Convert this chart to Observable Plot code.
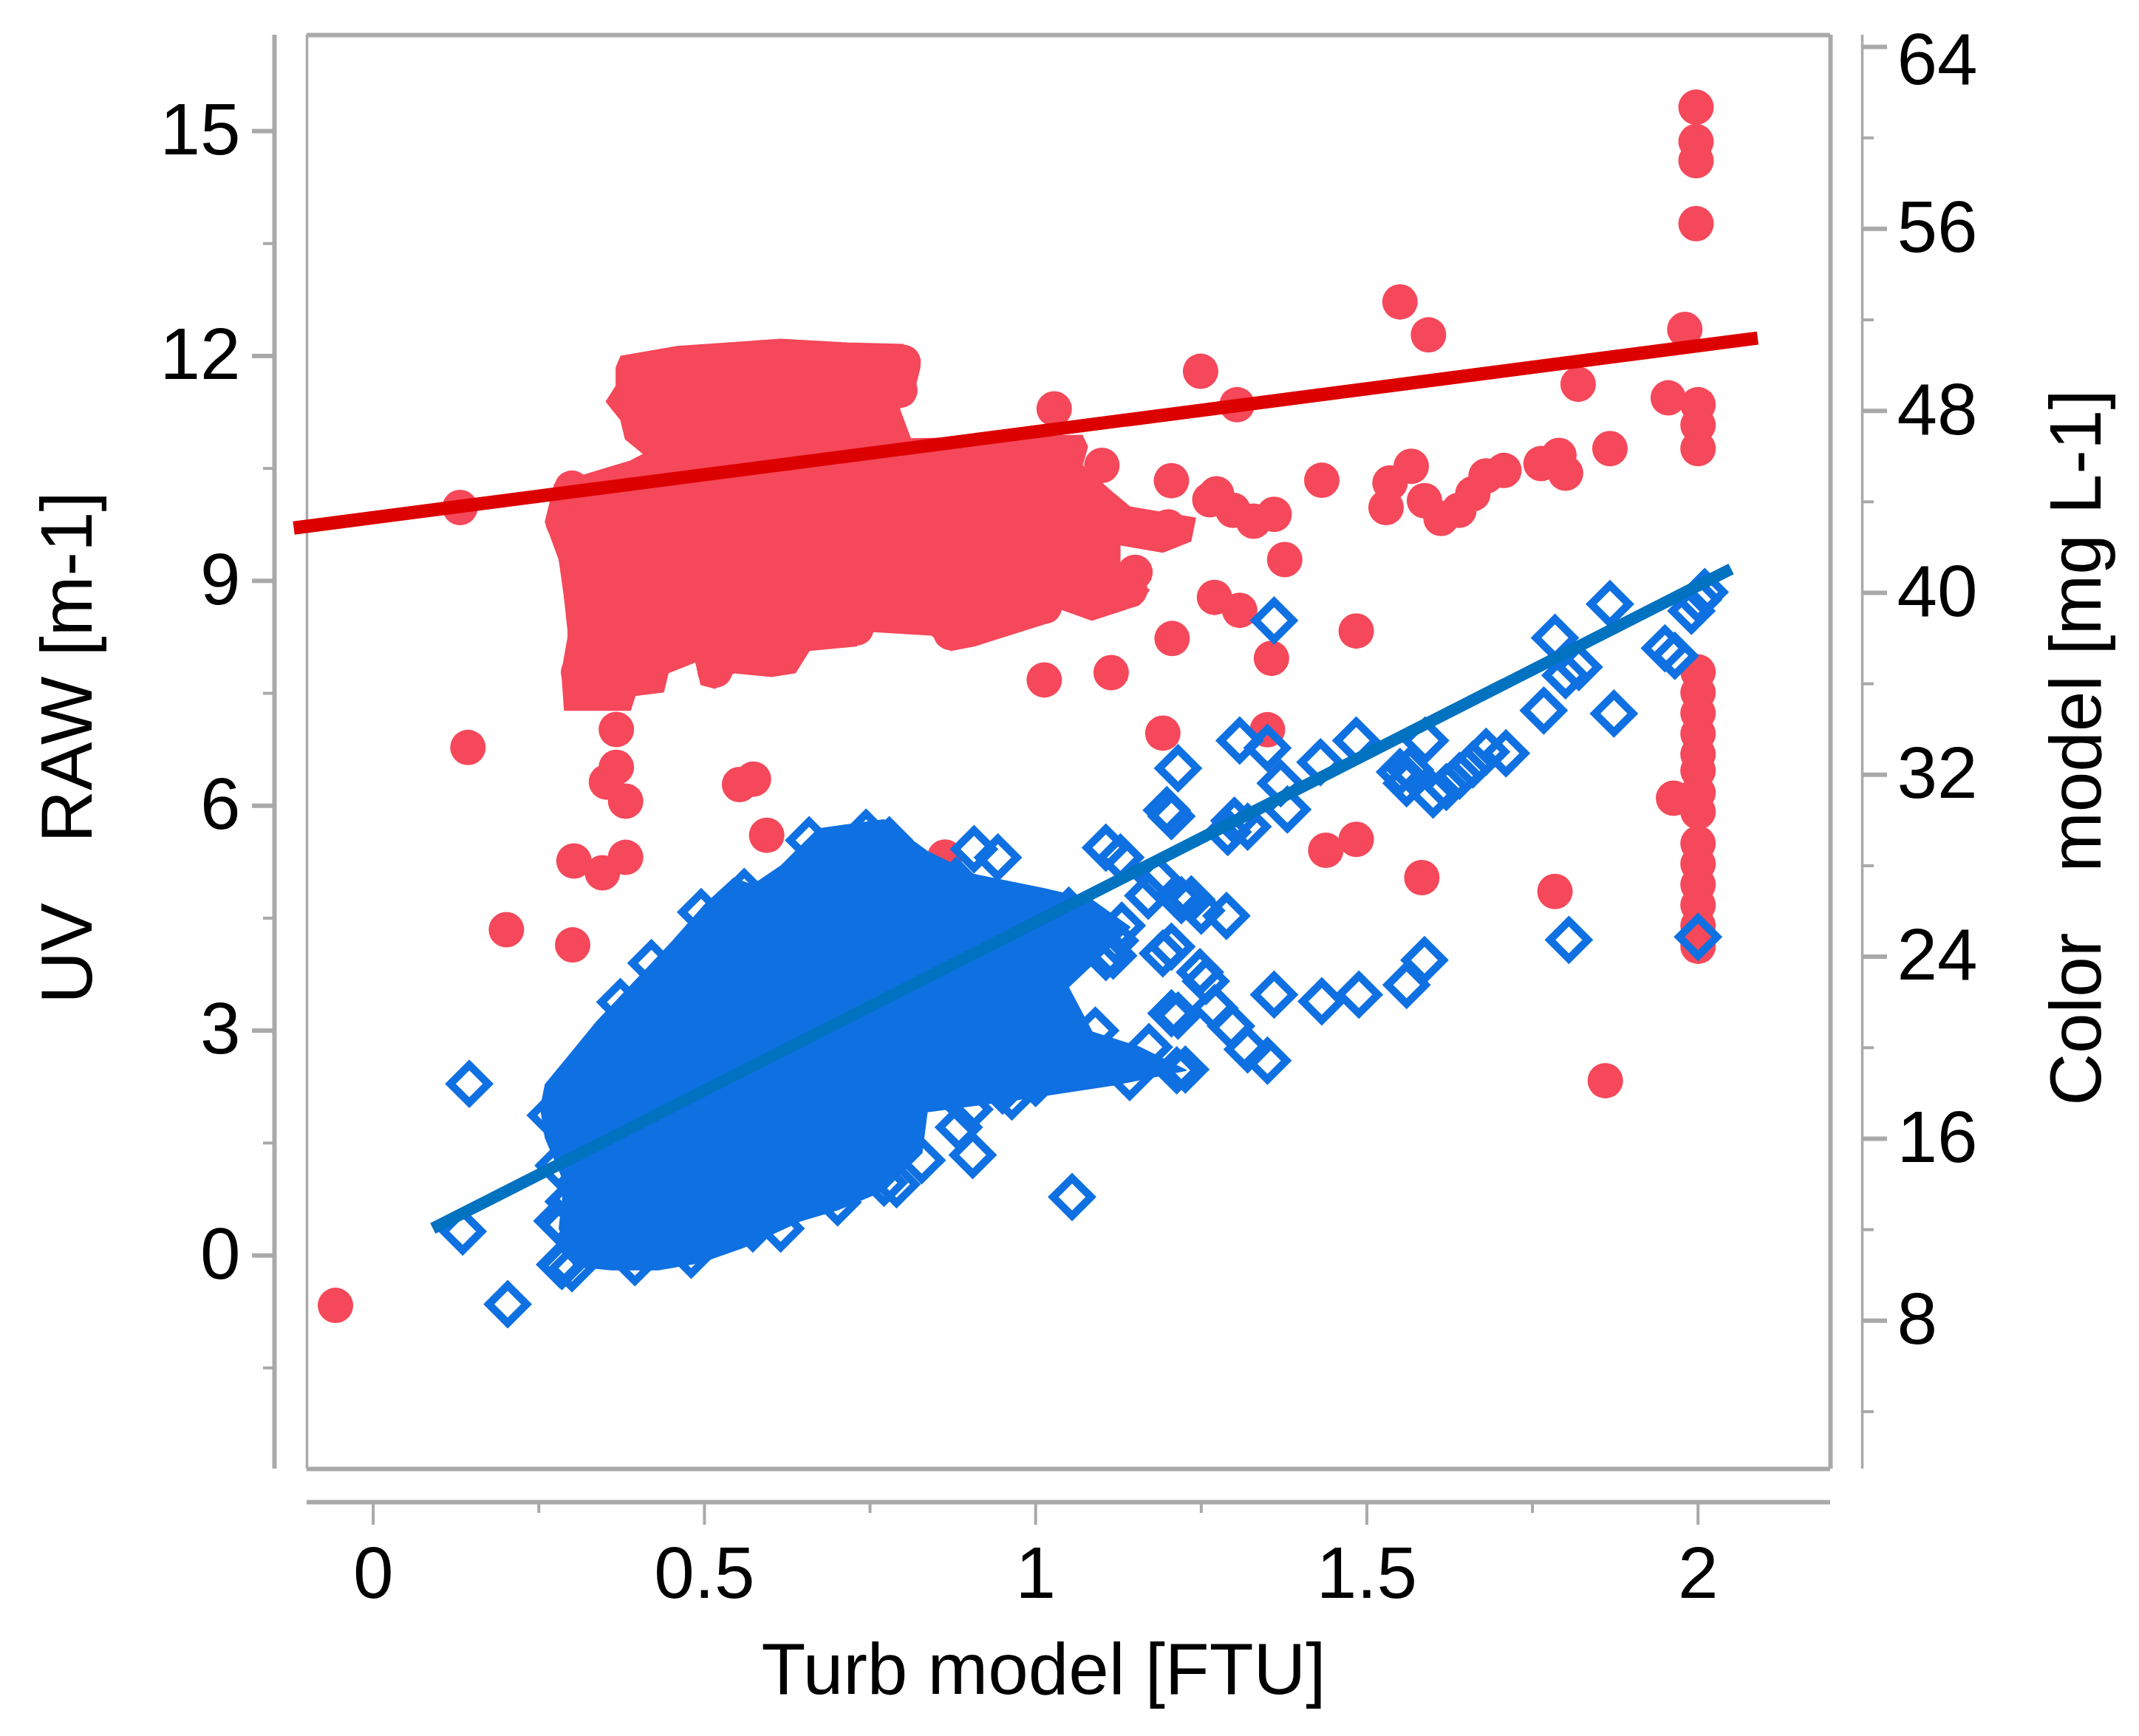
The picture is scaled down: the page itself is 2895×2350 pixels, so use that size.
<!DOCTYPE html>
<html><head><meta charset="utf-8">
<script src="https://cdn.jsdelivr.net/npm/d3@7"></script>
<script src="https://cdn.jsdelivr.net/npm/@observablehq/plot@0.6"></script>
<style>body{margin:0;background:#fff}</style>
</head><body><div id="chart"></div>
<script>
// ---- axis definitions ----
const turbTicks = [0, 0.5, 1, 1.5, 2];
const turbTickLabels = ["0", "0.5", "1", "1.5", "2"];
const turbMinor = [0.25, 0.75, 1.25, 1.75];
const uvTicks = [0, 3, 6, 9, 12, 15];
const uvMinor = [-1.5, 1.5, 4.5, 7.5, 10.5, 13.5];
const colorTicks = [8, 16, 24, 32, 40, 48, 56, 64];
const colorMinor = [4, 12, 20, 28, 36, 44, 52, 60];
const xDomain = [-0.1, 2.2];
const uvDomain = [-2.848, 16.281];
const colorDomain = [1.48, 64.52];

const xLabel = "Turb model [FTU]";
const uvLabel = "UV\u00a0\u00a0\u00a0RAW [m-1]";
const colorLabel = "Color\u00a0\u00a0\u00a0model [mg L-1]";

// ---- UV RAW (left axis), blue diamonds: [turb, uv] ----
const uvDenseOutline = [
 [0.253,1.97],[0.260,2.28],[0.338,3.12],[0.452,4.19],[0.502,4.69],[0.544,5.03],[0.573,4.94],
 [0.615,5.19],[0.672,5.69],[0.729,5.76],[0.771,5.81],[0.836,5.39],[0.907,5.08],[1.013,4.89],
 [1.085,4.74],[1.142,4.38],[1.085,3.88],[1.049,3.58],[1.085,2.98],[1.156,2.78],[1.227,2.47],
 [1.12,2.28],[0.964,2.07],[0.836,1.92],[0.828,1.37],[0.771,0.87],[0.701,0.61],[0.644,0.46],
 [0.559,0.11],[0.495,-0.09],[0.430,-0.19],[0.360,-0.19],[0.303,-0.14],[0.281,0.36],[0.289,0.97],
 [0.260,1.57]
];
const uvPoints = [
 [0.145,2.29],[0.135,0.32],[0.203,-0.65],[0.30,-0.17],[0.295,0.72],[0.287,0.41],[0.282,-0.12],
 [0.30,0.74],[0.285,-0.14],[1.055,0.78],[0.905,1.34],[0.884,1.71],[0.771,0.97],[0.615,0.36],
 [1.128,5.31],[1.215,6.50],[1.205,5.86],[1.308,6.87],[1.36,8.47],[1.35,6.77],[1.29,5.65],
 [1.30,5.80],[1.32,5.72],[1.38,5.95],[1.37,6.3],[1.43,6.58],[1.484,6.87],[1.55,6.45],[1.56,6.3],
 [1.565,6.48],[1.588,6.87],[1.60,6.15],[1.62,6.25],[1.64,6.4],[1.66,6.55],[1.68,6.72],[1.71,6.7],
 [1.767,7.27],[1.784,8.24],[1.80,7.74],[1.82,7.85],[1.867,8.69],[1.873,7.23],[1.95,8.1],
 [1.965,8.0],[1.99,8.6],[2.0,8.75],[2.01,8.85],[2.0,4.25],[1.805,4.21],[1.587,3.94],[1.56,3.61],
 [1.488,3.48],[1.432,3.39],[1.36,3.48],[1.35,2.6],[1.32,2.75],[1.295,3.06],[1.27,3.3],[1.257,3.66],
 [1.288,4.53],[1.215,3.2],[1.226,2.48],[1.205,4.12],[1.25,4.6],[1.235,4.75],[1.17,4.8],[1.13,4.4],
 [1.117,4.0],[1.198,5.94],[1.106,5.44],[0.943,5.31],[0.907,5.42],[1.184,5.03],[1.220,4.74],
 [1.248,3.78],[1.205,3.23],[1.106,3.98],[1.192,4.03],[1.213,2.47],[1.171,2.78],[0.779,5.54],
 [1.013,3.43],[1.0,2.3],[0.95,2.2],
 [0.573,0.36],[0.701,0.71],[0.828,1.27],[0.964,2.12],[1.142,2.38],[0.480,0.01],[0.395,-0.09],
 [0.278,0.46],[0.268,1.87],[0.373,3.38],[0.495,4.58],[0.658,5.54],[0.744,5.64],[0.28,1.2],
 [0.42,3.9],[0.56,4.85],[0.88,5.0],[1.05,4.6],[1.12,4.2],[1.09,3.0],[0.90,1.95],[0.79,0.95]
];
const uvFit = [[0.09,0.36],[2.05,9.16]];

// ---- Color model (right axis), red circles: [turb, color] ----
const colorDenseOutline = [
 [0.367,49.90],[0.374,50.39],[0.459,50.82],[0.615,51.14],[0.715,50.98],[0.800,50.91],[0.825,49.90],
 [0.815,48.73],[0.794,48.09],[0.811,46.76],[1.070,46.92],[1.078,46.43],[1.070,45.59],[1.114,44.45],
 [1.142,43.77],[1.241,43.28],[1.234,42.28],[1.192,41.79],[1.127,42.12],[1.127,40.62],[1.171,40.13],
 [1.156,39.48],[1.085,38.80],[1.035,39.32],[1.013,38.64],[0.907,37.67],[0.872,37.47],[0.843,38.15],
 [0.750,38.31],[0.729,37.67],[0.658,37.47],[0.637,36.49],[0.601,36.33],[0.544,36.49],[0.516,35.81],
 [0.495,35.97],[0.487,36.98],[0.445,36.49],[0.438,35.65],[0.395,35.49],[0.388,34.84],[0.346,34.84],
 [0.289,34.84],[0.285,36.49],[0.295,38.15],[0.289,39.80],[0.281,41.46],[0.260,43.12],[0.274,44.77],
 [0.346,45.42],[0.388,45.78],[0.409,46.10],[0.381,46.76],[0.374,47.60],[0.352,48.41],[0.367,49.09]
];
const colorPoints = [
 [-0.057,8.67],[0.131,43.75],[0.143,33.20],[0.201,25.19],[0.301,24.52],[0.303,28.21],[0.346,27.69],
 [0.381,28.37],[0.553,31.57],[0.574,31.81],[0.594,29.34],[0.863,28.38],[1.013,36.17],[1.114,36.49],
 [1.206,37.99],[1.192,33.83],[1.205,44.93],[1.249,49.74],[1.304,48.27],[1.273,44.35],[1.298,43.63],
 [1.329,43.15],[1.360,43.45],[1.376,41.46],[1.270,39.80],[1.308,39.23],[1.356,37.12],[1.350,33.98],
 [1.432,44.95],[1.484,38.32],[1.438,28.68],[1.484,29.16],[1.550,52.79],[1.593,51.34],[1.529,43.75],
 [1.535,44.83],[1.567,45.56],[1.587,44.05],[1.612,43.27],[1.639,43.63],[1.660,44.35],[1.680,45.14],
 [1.707,45.38],[1.583,27.48],[1.763,45.68],[1.790,46.04],[1.800,45.26],[1.819,49.17],[1.867,46.34],
 [1.784,26.87],[1.860,18.55],[1.955,48.57],[1.980,51.58],[1.997,61.35],[1.997,59.84],[1.997,59.00],
 [1.997,56.23],[2.0,48.27],[2.0,47.37],[2.0,46.34],[2.0,36.52],[2.0,35.61],[2.0,34.71],[2.0,33.80],
 [2.0,32.90],[2.0,32.18],[1.963,30.97],[2.0,31.21],[2.0,30.37],[2.0,28.98],[2.0,28.08],[2.0,27.17],
 [2.0,26.27],[2.0,25.37],[2.0,24.46],[0.367,33.99],[0.367,32.33],[0.381,30.84],[0.352,31.68],
 [1.142,40.13],[1.028,48.09],[1.263,44.09],
 [0.516,36.6],[0.445,37.3],[0.601,37.1],[0.658,38.25],[0.729,38.45],[0.872,38.25],[0.907,38.45],
 [1.013,39.4],[1.085,39.6],[0.395,36.3],[0.31,36.5],[0.32,38.2],[0.315,39.8],[0.307,41.5],
 [0.287,43.1],[0.30,44.6],[0.459,50.04],[0.615,50.36],[0.715,50.2],[0.800,50.13],[0.40,49.6],
 [0.795,48.9],[1.10,45.6],[1.20,42.9],[1.15,40.9]
];
const colorFit = [[-0.12,42.85],[2.09,51.2]];

// ---- right-axis value -> left-axis position ----
const toU = d3.scaleLinear().domain(colorDomain).range(uvDomain);

const gray = "#a9a9a9";
const redPt = "#f5485a", redLine = "#dd0000";
const bluePt = "#0f70e2", blueLine = "#0072bf";
const FS = 98;
const rightFmt = new Map(colorTicks.map(v => [toU(v), String(v)]));
const bottomFmt = new Map(turbTicks.map((v, i) => [v, turbTickLabels[i]]));

const chart = Plot.plot({
  width: 2895, height: 2350,
  marginTop: 47, marginBottom: 362, marginLeft: 415, marginRight: 418,
  x: {domain: xDomain},
  y: {domain: uvDomain},
  style: {fontFamily: "'Liberation Sans', Arial, sans-serif", fontSize: FS + "px", background: "#fff", color: "#000"},
  marks: [
    // frame
    Plot.ruleX([xDomain[0]], {stroke: gray, strokeWidth: 3.5}),
    Plot.ruleX([xDomain[1]], {stroke: gray, strokeWidth: 6}),
    Plot.ruleY([uvDomain[1]], {stroke: gray, strokeWidth: 6}),
    Plot.ruleY([uvDomain[0]], {stroke: gray, strokeWidth: 6}),
    // left axis
    Plot.ruleX([xDomain[0]], {dx: -44, stroke: gray, strokeWidth: 6}),
    Plot.axisY({anchor: "left", ticks: uvTicks, tickFormat: d => String(d), tickSize: 30, tickPadding: 16, dx: -44, stroke: gray, strokeWidth: 6, fill: "#000", fontSize: FS, label: null}),
    Plot.axisY({anchor: "left", ticks: uvMinor, tickSize: 15, tickFormat: () => "", dx: -44, stroke: gray, strokeWidth: 4, label: null}),
    // right axis
    Plot.ruleX([xDomain[1]], {dx: 43, stroke: gray, strokeWidth: 3.5}),
    Plot.axisY({anchor: "right", ticks: colorTicks.filter(v => v !== 64).map(toU), tickFormat: d => rightFmt.get(d), tickSize: 33, tickPadding: 14, dx: 43, stroke: gray, strokeWidth: 6, fill: "#000", fontSize: FS, label: null}),
    Plot.axisY({anchor: "right", ticks: [toU(64)], tickFormat: () => "", tickSize: 33, dx: 43, stroke: gray, strokeWidth: 6, label: null}),
    Plot.text([64], {y: d => toU(d), text: d => String(d), frameAnchor: "right", dx: 90, dy: 19, textAnchor: "start", fontSize: FS, fill: "#000"}),
    Plot.axisY({anchor: "right", ticks: colorMinor.map(toU), tickSize: 15, tickFormat: () => "", dx: 43, stroke: gray, strokeWidth: 4, label: null}),
    // bottom axis
    Plot.ruleY([uvDomain[0]], {dy: 45, stroke: gray, strokeWidth: 6}),
    Plot.axisX({anchor: "bottom", ticks: turbTicks, tickFormat: d => bottomFmt.get(d), tickSize: 31, tickPadding: 29, dy: 45, stroke: gray, strokeWidth: 4, fill: "#000", fontSize: FS, label: null}),
    Plot.axisX({anchor: "bottom", ticks: turbMinor, tickSize: 15, tickFormat: () => "", dy: 45, stroke: gray, strokeWidth: 4, label: null}),
    // axis titles
    Plot.text([xLabel], {text: d => d, frameAnchor: "bottom", dx: -34, dy: 304, lineAnchor: "bottom", fontSize: FS, fill: "#000"}),
    Plot.text([uvLabel], {text: d => d, frameAnchor: "left", rotate: -90, dx: -292, dy: -6, lineAnchor: "bottom", textAnchor: "middle", fontSize: FS, fill: "#000"}),
    Plot.text([colorLabel], {text: d => d, frameAnchor: "right", rotate: -90, dx: 365, dy: -6, lineAnchor: "bottom", textAnchor: "middle", fontSize: FS, fill: "#000"}),
    // Color model (red circles)
    Plot.line(colorDenseOutline, {x: d => d[0], y: d => toU(d[1]), curve: "linear-closed", fill: redPt, stroke: redPt, strokeWidth: 2}),
    Plot.dot(colorPoints, {x: d => d[0], y: d => toU(d[1]), r: 24, fill: redPt, stroke: null}),
    // UV RAW (blue diamonds)
    Plot.line(uvDenseOutline, {x: d => d[0], y: d => d[1], curve: "linear-closed", fill: bluePt, stroke: bluePt, strokeWidth: 2}),
    Plot.dot(uvPoints, {x: d => d[0], y: d => d[1], symbol: "diamond2", r: 23, fill: "#fff", fillOpacity: 0, stroke: bluePt, strokeWidth: 10.5}),
    // fits
    Plot.line(colorFit, {x: d => d[0], y: d => toU(d[1]), stroke: redLine, strokeWidth: 18, strokeLinecap: "butt"}),
    Plot.line(uvFit, {x: d => d[0], y: d => d[1], stroke: blueLine, strokeWidth: 16, strokeLinecap: "butt"})
  ]
});
document.getElementById("chart").appendChild(chart);
</script>
</body></html>
